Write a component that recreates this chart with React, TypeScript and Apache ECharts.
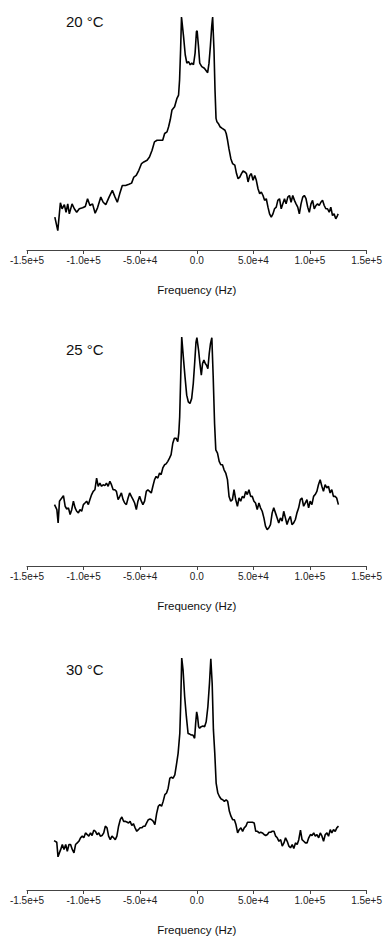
import React, { useEffect, useRef } from "react";
import * as echarts from "echarts";

// ---- Data (frequency in Hz, intensity in arbitrary units, 100 = top of plot) ----
const freq20 = [-125400,-122800,-120500,-119000,-117000,-115500,-114000,-112600,-110200,-108200,-106100,-103800,-100900,-98500,-96500,-94400,-92100,-89800,-87700,-84800,-82700,-80400,-77500,-74600,-72200,-70200,-68100,-65800,-62900,-59900,-57600,-55600,-53500,-51200,-48800,-46800,-43900,-41800,-39500,-37400,-35100,-32200,-30100,-28400,-26300,-24900,-23400,-21900,-19600,-17500,-16100,-15200,-14300,-13500,-11700,-10200,-8800,-7300,-5800,-4400,-2900,-1500,-300,300,1500,2600,4400,6700,8800,9600,10800,12000,13200,14000,15200,16100,17000,17800,19000,20500,22500,24900,26000,27200,28400,30100,31600,33600,35100,36500,38000,39500,40900,42400,43900,45300,46800,48200,49700,51200,52600,54100,55600,57000,58500,59900,61400,62900,64300,65800,67300,68700,70200,71600,73100,74600,76000,77500,78900,80400,81900,83300,84800,86300,87700,89200,90600,92100,93600,95000,96500,98000,99400,100900,102300,103800,105300,106700,108200,109600,111100,112600,114000,115500,117000,118400,119900,121300,122800,124300,124900];
const int20 = [14.1,8.3,20.3,17.7,19.5,16.2,19.8,15.5,19.8,17.7,16.2,17.7,18.1,18.7,22.0,19.1,19.8,15.8,18.1,22.7,20.5,19.5,22.7,25.6,22.7,20.5,24.1,27.7,27.7,28.2,28.7,31.3,32.0,34.2,37.1,37.8,38.5,39.9,42.8,46.4,47.1,47.1,47.1,50.0,50.7,52.9,56.0,60.1,61.5,65.1,66.5,73.0,85.9,100,91.7,83.8,80.2,80.9,79.5,80.2,79.5,84.5,93.8,94.1,87.4,80.2,78.7,78.0,76.6,76.1,80.2,87.4,96.0,100,85.9,68.7,56.5,55.0,54.3,52.9,52.2,51.4,50.0,47.1,43.5,39.2,37.1,36.4,32.8,30.6,31.3,32.8,33.9,33.5,32.8,29.2,32.0,32.8,29.9,32.0,29.9,26.3,24.1,24.9,23.4,21.3,22.0,18.4,15.5,14.1,15.5,17.7,18.4,21.3,22.0,17.7,19.8,22.0,19.8,22.7,23.4,20.5,23.4,21.3,19.8,18.4,15.5,19.8,22.7,23.4,22.0,18.4,16.2,19.8,21.3,17.7,19.1,19.8,19.1,20.5,21.3,19.1,17.7,17.7,16.2,18.4,14.8,15.5,13.4,14.8,15.5];

const freq25 = [-125700,-123600,-122500,-121300,-119900,-117800,-116300,-114900,-113400,-111900,-110500,-109000,-107500,-106100,-104600,-103200,-101700,-100200,-98800,-97300,-95800,-94400,-92900,-91500,-90000,-88500,-87100,-85600,-84100,-82700,-81200,-79800,-78300,-76800,-75400,-73900,-72400,-71000,-69500,-68000,-66600,-65100,-63700,-62200,-60700,-59300,-57800,-56300,-54900,-53400,-52000,-50500,-49000,-47600,-46100,-44600,-43200,-41700,-40200,-38800,-37300,-35900,-34400,-32900,-31500,-30000,-28500,-27100,-25600,-24100,-22700,-21200,-19800,-18300,-16800,-15900,-15100,-14200,-13300,-11900,-10400,-8900,-7500,-6000,-4500,-3100,-1900,-700,100,1600,2800,4000,5100,6300,7500,8600,9800,11000,12100,13300,14500,15700,16800,18300,19800,21200,22700,24100,25600,27100,28500,30000,31500,32900,34400,35900,37300,38800,40200,41700,43200,44600,46100,47600,49000,50500,51900,53400,54900,56300,57800,59300,60700,62200,63700,65100,66600,68000,69500,71000,72400,73900,75400,76800,78300,79700,81200,82700,84100,85600,87100,88500,90000,91500,92900,94400,95800,97300,98800,100200,101700,103200,104600,106100,107500,109000,110500,111900,113400,114900,116300,117800,119300,120700,122200,123600,125100];
const int25 = [26.8,24.6,18.8,28.3,29.3,30.7,26.1,24.9,25.4,22.5,24.6,28.3,25.4,23.9,23.2,24.6,23.9,26.8,27.5,28.3,26.8,29.0,31.2,32.6,33.3,38.4,34.8,36.2,34.8,35.5,35.1,36.2,34.8,37.0,35.5,33.3,33.3,32.6,29.0,30.4,31.9,29.0,27.5,26.8,29.7,31.9,30.4,29.0,27.5,24.6,28.3,30.4,28.3,26.8,28.3,32.6,33.3,32.6,31.9,34.8,37.7,39.1,38.4,40.6,39.9,42.8,44.2,44.6,45.7,47.1,48.6,53.6,55.8,55.8,54.3,58.0,65.2,82.6,100,91.3,82.6,74.6,71.7,71.0,73.2,79.7,88.4,97.8,99.7,94.2,88.4,83.3,88.4,89.9,88.4,87.7,86.2,92.8,97.1,99.7,82.6,62.3,50.7,49.3,45.7,44.2,44.2,42.0,40.6,37.7,30.4,28.3,29.0,33.3,29.0,26.1,29.7,28.3,30.4,29.7,32.6,31.2,33.3,30.4,30.4,28.3,27.5,24.6,27.5,25.4,23.9,21.0,17.4,15.9,16.7,18.1,23.2,25.4,23.2,21.0,18.8,21.0,19.6,23.9,21.0,18.1,20.3,21.7,18.1,18.8,20.3,23.2,25.4,29.0,29.7,26.1,27.5,29.0,25.4,28.3,26.8,30.4,31.2,32.6,35.5,37.7,34.8,32.6,35.5,34.1,34.8,31.9,33.3,30.4,30.4,29.7,26.8];

const freq30 = [-126100,-123700,-122600,-121400,-120200,-118800,-117300,-115800,-114400,-112900,-111500,-110000,-108500,-107100,-105600,-104200,-102700,-101200,-99800,-98300,-96800,-95400,-93900,-92500,-91000,-89500,-88100,-86600,-85200,-83700,-82200,-80800,-79300,-77900,-76400,-74900,-73500,-72000,-70600,-69100,-67600,-66200,-64700,-63300,-61800,-60300,-58900,-57400,-56000,-54500,-53000,-51600,-50100,-48600,-47200,-45700,-44300,-42800,-41300,-39900,-38400,-37000,-35500,-34000,-32600,-31100,-29700,-28200,-26700,-25300,-23800,-22400,-20900,-19400,-18000,-16500,-15000,-14200,-13300,-12100,-10700,-9200,-7700,-6300,-4800,-3400,-1900,-1000,-100,700,1600,2500,3900,5400,6900,8300,9800,11200,12400,13600,14700,15900,17100,18600,20000,21500,22900,24400,25900,27300,28800,30200,31700,33200,34600,36100,37500,39000,40500,41900,43400,44800,46300,47800,49200,50700,52100,53600,55100,56500,58000,59400,60900,62400,63800,65300,66700,68200,69700,71100,72600,74100,75500,77000,78400,79900,81400,82800,84300,85700,87200,88700,90100,91600,93000,94500,96000,97400,98900,100400,101800,103300,104700,106200,107700,109100,110600,112000,113500,115000,116400,117900,119300,120800,122300,123700,125200];
const int30 = [21.3,20.6,14.3,16.0,17.5,19.6,17.5,19.6,16.7,19.6,19.6,17.5,16.0,19.6,20.3,21.0,22.5,23.2,22.5,24.6,23.9,23.2,24.6,23.5,25.8,25.3,23.9,24.6,23.2,23.5,24.6,27.5,26.8,23.2,21.7,23.2,22.5,21.7,23.2,27.5,30.3,31.5,29.6,29.6,29.3,28.9,29.6,27.8,28.6,26.8,25.3,26.0,26.8,26.8,27.5,27.5,28.9,30.3,30.6,30.3,29.6,28.2,32.9,36.1,36.8,36.1,38.2,41.1,41.8,43.9,48.2,48.6,48.2,49.6,53.9,58.9,67.5,80.4,100,94.7,83.3,74.7,67.5,67.2,66.8,66.8,65.4,71.8,76.8,74.7,70.4,69.7,70.4,70.7,70.4,72.5,79.0,89.0,99.7,89.0,69.0,58.9,46.1,41.8,40.3,39.2,38.9,38.2,38.9,38.2,33.9,31.8,30.3,30.3,28.2,24.6,26.0,26.8,25.3,26.8,27.5,29.2,29.2,29.2,29.2,28.9,25.3,25.3,24.6,24.9,24.6,23.9,23.5,23.9,24.9,24.9,25.3,25.3,23.2,22.5,21.0,21.7,18.9,20.3,22.5,21.0,18.9,18.2,19.6,17.9,20.3,19.6,21.7,25.8,21.7,21.0,20.3,20.3,22.5,23.9,23.5,24.6,23.2,23.9,22.5,24.6,23.2,21.0,23.9,24.6,23.2,26.0,24.6,26.0,25.3,26.8,27.5];

const panelLabels = ["20 °C", "25 °C", "30 °C"];
const tickValues = [-150000, -100000, -50000, 0, 50000, 100000, 150000];
const tickLabels = ["-1.5e+5", "-1.0e+5", "-5.0e+4", "0.0", "5.0e+4", "1.0e+5", "1.5e+5"];
const axisTitle = "Frequency (Hz)";

const FONT = "'Liberation Sans', Arial, Helvetica, sans-serif";

// layout per panel: plot top (peak level) and axis line y
const panels = [
  { top: 17, axis: 250, labelY: 23 },
  { top: 337, axis: 566, labelY: 351 },
  { top: 658, axis: 890, labelY: 671 },
];

export default function App() {
  const ref = useRef<HTMLDivElement>(null);
  useEffect(() => {
    if (!ref.current) return;
    const chart = echarts.init(ref.current, null, { renderer: "svg" });
    const seriesData = [
      freq20.map((f, i) => [f, int20[i]]),
      freq25.map((f, i) => [f, int25[i]]),
      freq30.map((f, i) => [f, int30[i]]),
    ];
    chart.setOption({
      animation: false,
      backgroundColor: "#ffffff",
      grid: panels.map((p) => ({
        left: 27,
        right: 16,
        top: p.top,
        height: p.axis - p.top,
        containLabel: false,
      })),
      xAxis: panels.map((p, i) => ({
        type: "value",
        gridIndex: i,
        min: -150000,
        max: 150000,
        interval: 50000,
        name: axisTitle,
        nameLocation: "middle",
        nameGap: 34,
        nameTextStyle: { fontFamily: FONT, fontSize: 11.5, color: "#111" },
        splitLine: { show: false },
        axisLine: { show: true, onZero: false, lineStyle: { color: "#444", width: 1 } },
        axisTick: { show: true, length: 4, lineStyle: { color: "#444", width: 1 } },
        axisLabel: {
          show: true,
          margin: 5,
          fontFamily: FONT,
          fontSize: 10,
          color: "#222",
          showMinLabel: true,
          showMaxLabel: true,
          hideOverlap: false,
          formatter: (v: number) => {
            const k = tickValues.indexOf(v);
            return k >= 0 ? tickLabels[k] : "";
          },
        },
      })),
      yAxis: panels.map((p, i) => ({
        type: "value",
        gridIndex: i,
        min: 0,
        max: 100,
        show: false,
        splitLine: { show: false },
      })),
      graphic: panels.map((p, i) => ({
        type: "text",
        left: 66,
        top: p.labelY - 9,
        style: {
          text: panelLabels[i],
          fontFamily: FONT,
          fontSize: 15,
          fill: "#111",
        },
      })),
      series: seriesData.map((d, i) => ({
        type: "line",
        xAxisIndex: i,
        yAxisIndex: i,
        data: d,
        showSymbol: false,
        symbol: "none",
        clip: false,
        lineStyle: { color: "#000", width: 1.6 },
      })),
    });
    return () => chart.dispose();
  }, []);
  return (
    <div
      ref={ref}
      style={{ position: "absolute", left: 0, top: 0, width: 385, height: 938 }}
    />
  );
}
